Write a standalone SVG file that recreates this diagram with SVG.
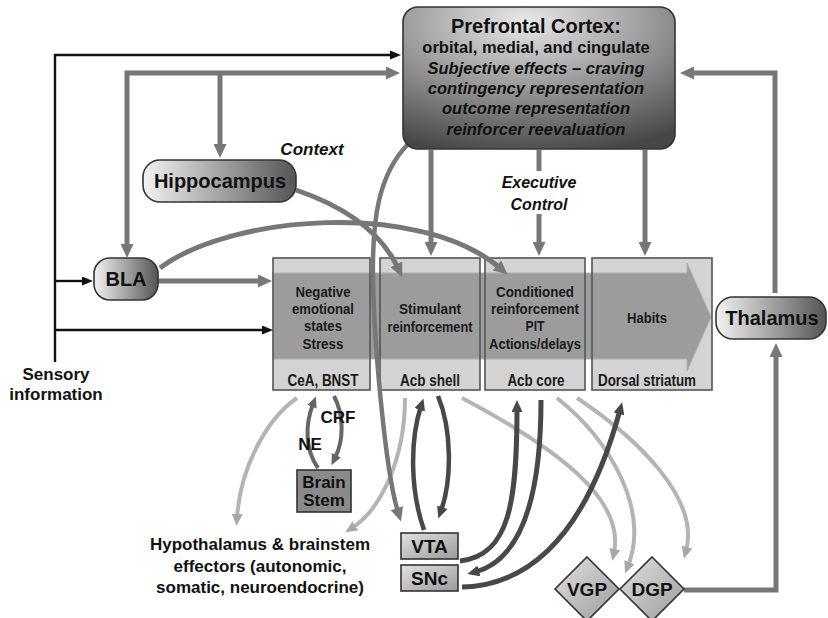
<svg xmlns="http://www.w3.org/2000/svg" width="828" height="618" viewBox="0 0 828 618">
<style>
.t{font-family:"Liberation Sans",Arial,sans-serif;font-weight:bold;fill:#111;text-anchor:middle}
.i{font-style:italic}
.bx{font-size:15.5px;fill:#1a1a1a}
.lb{font-size:16px;fill:#1a1a1a}
.node{stroke:#333;stroke-width:1.6}
.box{fill:#d3d3d3;stroke:none}
.boxo{fill:none;stroke:#555;stroke-width:1.6}
.cb{fill:none;stroke:#111;stroke-width:2.4}
.cg{fill:none;stroke:#777;stroke-width:5}
.cd{fill:none;stroke:#484848;stroke-width:5}
.cm{fill:none;stroke:#666;stroke-width:4}
.cl{fill:none;stroke:#b4b4b4;stroke-width:4}
</style>
<defs>
<linearGradient id="gPill" x1="0" y1="0" x2="1" y2="0">
<stop offset="0" stop-color="#f2f2f2"/><stop offset="1" stop-color="#555"/>
</linearGradient>
<radialGradient id="gPfc" cx="0.45" cy="0.1" r="0.95">
<stop offset="0" stop-color="#e8e8e8"/><stop offset="1" stop-color="#474747"/>
</radialGradient>
<linearGradient id="gSmall" x1="0" y1="0" x2="1" y2="1">
<stop offset="0" stop-color="#e2e2e2"/><stop offset="1" stop-color="#9a9a9a"/>
</linearGradient>
<marker id="ab" viewBox="0 0 11 9" refX="2" refY="4.5" markerWidth="11" markerHeight="9" markerUnits="userSpaceOnUse" orient="auto"><path d="M0,0 L11,4.5 L0,9 Z" fill="#111"/></marker>
<marker id="ag" viewBox="0 0 14 13" refX="4" refY="6.5" markerWidth="14" markerHeight="13" markerUnits="userSpaceOnUse" orient="auto-start-reverse"><path d="M0,0 L14,6.5 L0,13 Z" fill="#777"/></marker>
<marker id="ad" viewBox="0 0 12 11" refX="4" refY="5.5" markerWidth="12" markerHeight="11" markerUnits="userSpaceOnUse" orient="auto"><path d="M0,0 L12,5.5 L0,11 Z" fill="#484848"/></marker>
<marker id="am" viewBox="0 0 11 10" refX="3" refY="5" markerWidth="11" markerHeight="10" markerUnits="userSpaceOnUse" orient="auto"><path d="M0,0 L11,5 L0,10 Z" fill="#666"/></marker>
<marker id="al" viewBox="0 0 12 11" refX="4" refY="5.5" markerWidth="12" markerHeight="11" markerUnits="userSpaceOnUse" orient="auto"><path d="M0,0 L12,5.5 L0,11 Z" fill="#a8a8a8"/></marker>
</defs>
<rect width="828" height="618" fill="#fff"/>

<!-- striatal boxes -->
<g id="striatum">
<g id="box-cea"><rect class="box" x="273" y="258" width="97" height="132"/></g>
<g id="box-shell"><rect class="box" x="380" y="258" width="100" height="132"/></g>
<g id="box-core"><rect class="box" x="485" y="258" width="100" height="132"/></g>
<g id="box-dorsal"><rect class="box" x="592" y="258" width="120" height="132"/></g>
<polygon id="spiral-arrow" points="273,273 687,273 687,263 711,317 687,371 687,359 273,359" fill="#9c9c9c" stroke="#b0b0b0" stroke-width="1"/>
<rect class="boxo" x="273" y="258" width="97" height="132"/>
<rect class="boxo" x="380" y="258" width="100" height="132"/>
<rect class="boxo" x="485" y="258" width="100" height="132"/>
<rect class="boxo" x="592" y="258" width="120" height="132"/>
<text class="t bx" x="323" y="297" textLength="55" lengthAdjust="spacingAndGlyphs">Negative</text>
<text class="t bx" x="323" y="314" textLength="62" lengthAdjust="spacingAndGlyphs">emotional</text>
<text class="t bx" x="323" y="331" textLength="38" lengthAdjust="spacingAndGlyphs">states</text>
<text class="t bx" x="323" y="349" textLength="41" lengthAdjust="spacingAndGlyphs">Stress</text>
<text class="t bx" x="430" y="314" textLength="62" lengthAdjust="spacingAndGlyphs">Stimulant</text>
<text class="t bx" x="430" y="332" textLength="85" lengthAdjust="spacingAndGlyphs">reinforcement</text>
<text class="t bx" x="535" y="297" textLength="78" lengthAdjust="spacingAndGlyphs">Conditioned</text>
<text class="t bx" x="535" y="314" textLength="88" lengthAdjust="spacingAndGlyphs">reinforcement</text>
<text class="t bx" x="535" y="331" textLength="19" lengthAdjust="spacingAndGlyphs">PIT</text>
<text class="t bx" x="535" y="349" textLength="92" lengthAdjust="spacingAndGlyphs">Actions/delays</text>
<text class="t bx" x="647" y="323" textLength="40" lengthAdjust="spacingAndGlyphs">Habits</text>
<text class="t lb" x="323" y="386" textLength="71" lengthAdjust="spacingAndGlyphs">CeA, BNST</text>
<text class="t lb" x="430" y="386" textLength="60" lengthAdjust="spacingAndGlyphs">Acb shell</text>
<text class="t lb" x="536" y="386" textLength="57" lengthAdjust="spacingAndGlyphs">Acb core</text>
<text class="t lb" x="647" y="386" textLength="98" lengthAdjust="spacingAndGlyphs">Dorsal striatum</text>
</g>

<!-- connectors -->
<g id="connectors">
<path class="cb" d="M55 362 V55 H392" marker-end="url(#ab)"/>
<path class="cb" d="M55 281 H84" marker-end="url(#ab)"/>
<path class="cb" d="M55 330 H264" marker-end="url(#ab)"/>
<path class="cg" d="M127 248 V73 H390" marker-start="url(#ag)" marker-end="url(#ag)"/>
<path class="cg" d="M220 73 V148" marker-end="url(#ag)"/>
<path class="cg" d="M158 281 H262" marker-end="url(#ag)"/>
<path class="cg" d="M431 150 V246" marker-end="url(#ag)"/>
<path class="cg" d="M539 150 V246" marker-end="url(#ag)"/>
<path class="cg" d="M645 150 V246" marker-end="url(#ag)"/>
<path class="cg" d="M775 293 V73 H690" marker-end="url(#ag)"/>
<path class="cg" d="M684 590 H776 V353" marker-end="url(#ag)"/>
<path class="cg" d="M160 268 C230 215 420 200 500 268" marker-end="url(#ag)"/>
<path class="cg" d="M296 190 C340 205 380 230 398 268" marker-end="url(#ag)"/>
<path class="cl" d="M297 398 C265 420 240 470 237 518" marker-end="url(#al)"/>
<path class="cl" d="M405 398 C405 460 380 510 352 528" marker-end="url(#al)"/>
<path class="cg" style="stroke-width:4.5" d="M408 144 C378 175 372 220 373 280 S385 470 398 512" marker-end="url(#ag)"/>
<path class="cm" d="M318 468 C305 450 305 425 313 404" marker-end="url(#am)"/>
<path class="cm" d="M334 396 C344 415 344 440 335 458" marker-end="url(#am)"/>
<path class="cd" style="stroke-width:4.5" d="M424 530 C410 490 410 440 421 406" marker-end="url(#ad)"/>
<path class="cd" style="stroke-width:4.5" d="M438 396 C452 430 452 480 441 511" marker-end="url(#ad)"/>
<path class="cl" d="M462 398 C560 450 625 500 614 553" marker-end="url(#al)"/>
<path class="cl" d="M557 398 C610 440 650 510 628 566" marker-end="url(#al)"/>
<path class="cl" d="M577 398 C640 440 700 500 686 551" marker-end="url(#al)"/>
<path class="cd" d="M460 561 C510 556 517 500 517 408" marker-end="url(#ad)"/>
<path class="cd" d="M541 400 C541 500 520 560 475 572" marker-end="url(#ad)"/>
<path class="cd" d="M462 587 C540 585 590 520 620 410" marker-end="url(#ad)"/>
</g>

<!-- labels -->
<g id="label-context"><text class="t i" x="312" y="155" font-size="17">Context</text></g>
<g id="label-executive">
<rect x="494" y="171" width="90" height="43" fill="#fff"/>
<text class="t i" x="539" y="188" font-size="16">Executive</text>
<text class="t i" x="539" y="210" font-size="16">Control</text>
</g>
<g id="label-sensory">
<text class="t" x="56" y="380" font-size="17">Sensory</text>
<text class="t" x="56" y="400" font-size="17">information</text>
</g>
<g id="hypothalamus">
<text class="t" x="260" y="550" font-size="17">Hypothalamus &amp; brainstem</text>
<text class="t" x="260" y="572" font-size="17">effectors (autonomic,</text>
<text class="t" x="260" y="593" font-size="17">somatic, neuroendocrine)</text>
</g>
<g id="label-crf"><text class="t" x="338" y="423" font-size="17">CRF</text></g>
<g id="label-ne"><text class="t" x="310" y="450" font-size="17">NE</text></g>

<!-- nodes -->
<g id="pfc">
<rect class="node" x="403" y="7" width="272" height="142" rx="15" fill="url(#gPfc)"/>
<text class="t" x="536" y="33" font-size="20">Prefrontal Cortex:</text>
<text class="t" x="536" y="53" font-size="16.5">orbital, medial, and cingulate</text>
<text class="t i" x="536" y="74" font-size="16.5">Subjective effects – craving</text>
<text class="t i" x="536" y="94" font-size="16.5">contingency representation</text>
<text class="t i" x="536" y="114" font-size="16.5">outcome representation</text>
<text class="t i" x="536" y="135" font-size="16.5">reinforcer reevaluation</text>
</g>
<g id="hippocampus">
<rect class="node" x="143" y="160" width="153" height="42" rx="17" fill="url(#gPill)"/>
<text class="t" x="220" y="188" font-size="20">Hippocampus</text>
</g>
<g id="bla">
<rect class="node" x="94" y="258" width="64" height="42" rx="16" fill="url(#gPill)"/>
<text class="t" x="126" y="286" font-size="20">BLA</text>
</g>
<g id="thalamus">
<rect class="node" x="716" y="297" width="110" height="42" rx="17" fill="url(#gPill)"/>
<text class="t" x="772" y="325" font-size="20">Thalamus</text>
</g>
<g id="brainstem">
<rect class="node" x="297" y="470" width="54" height="42" fill="#8a8a8a"/>
<text class="t" x="324" y="488" font-size="17">Brain</text>
<text class="t" x="324" y="506" font-size="17">Stem</text>
</g>
<g id="vta">
<rect class="node" x="401" y="533" width="57" height="26" fill="url(#gSmall)"/>
<text class="t" x="429.5" y="553" font-size="19">VTA</text>
</g>
<g id="snc">
<rect class="node" x="401" y="565" width="57" height="26" fill="url(#gSmall)"/>
<text class="t" x="429.5" y="585" font-size="19">SNc</text>
</g>
<g id="vgp">
<polygon class="node" points="587,557 619,589 587,621 555,589" fill="url(#gSmall)"/>
<text class="t" x="587" y="596" font-size="19">VGP</text>
</g>
<g id="dgp">
<polygon class="node" points="652,557 684,589 652,621 620,589" fill="url(#gSmall)"/>
<text class="t" x="652" y="596" font-size="19">DGP</text>
</g>
</svg>
